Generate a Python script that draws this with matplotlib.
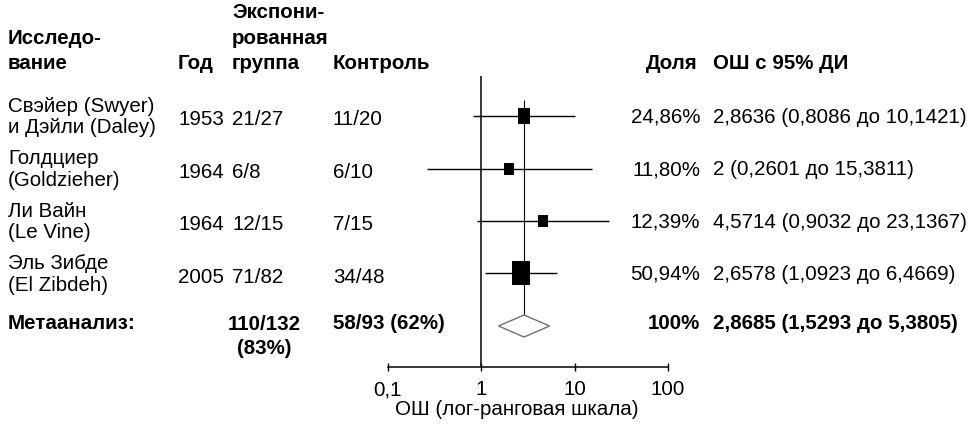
import matplotlib
matplotlib.use("Agg")
import matplotlib.pyplot as plt
from matplotlib.patches import Polygon
from matplotlib.ticker import NullLocator
from matplotlib.transforms import blended_transform_factory

plt.rcParams["font.family"] = ["Liberation Sans", "DejaVu Sans"]

studies = ["Свэйер (Swyer)\nи Дэйли (Daley)", "Голдциер\n(Goldzieher)",
           "Ли Вайн\n(Le Vine)", "Эль Зибде\n(El Zibdeh)"]
years = ["1953", "1964", "1964", "2005"]
exposed = ["21/27", "6/8", "12/15", "71/82"]
control = ["11/20", "6/10", "7/15", "34/48"]
weights = [24.86, 11.80, 12.39, 50.94]
odds = [2.8636, 2.0, 4.5714, 2.6578]
ci_low = [0.8086, 0.2601, 0.9032, 1.0923]
ci_high = [10.1421, 15.3811, 23.1367, 6.4669]

pooled_or = 2.8685
pooled_low = 1.5293
pooled_high = 5.3805
pooled_exposed = "110/132\n(83%)"
pooled_control = "58/93 (62%)"

xticks = [0.1, 1, 10, 100]
xtick_labels = ["0,1", "1", "10", "100"]


def fmt(v):
    return f"{v:.4f}".rstrip("0").rstrip(".").replace(".", ",")


W, H = 976, 431
FS = 14.8
fig = plt.figure(figsize=(W / 100, H / 100), dpi=100)

# forest panel: log scale, rows top to bottom
ax = fig.add_axes([388 / W, (H - 368) / H, (668 - 388) / W, (368 - 77) / H])
ax.set_xscale("log")
ax.set_xlim(0.1, 100)
ax.set_ylim(4.781, -0.762)

rows = list(range(len(studies)))
meta_row = len(studies)

# slightly tall box marker, height grows with study weight
box = [(-0.8, -1), (0.8, -1), (0.8, 1), (-0.8, 1), (-0.8, -1)]

ax.axvline(1, color="black", lw=1.1, zorder=2)
ax.vlines(pooled_or, -0.3, meta_row - 0.21, color="black", lw=0.8, zorder=2)
for y, est, lo, hi, w in zip(rows, odds, ci_low, ci_high, weights):
    ax.hlines(y, lo, hi, color="black", lw=1.0, zorder=3)
    ax.plot(est, y, marker=box, ms=(8.5 + 0.29 * w) / 1.39, color="black",
            mec="black", mew=0, zorder=4)

diamond = Polygon([(pooled_low, meta_row), (pooled_or, meta_row - 0.21),
                   (pooled_high, meta_row), (pooled_or, meta_row + 0.21)],
                  closed=True, facecolor="white", edgecolor="#707070", lw=1.0, zorder=5)
ax.add_patch(diamond)

for side in ["left", "right", "top"]:
    ax.spines[side].set_visible(False)
ax.spines["bottom"].set_linewidth(1.1)
ax.set_yticks([])
ax.set_xticks(xticks)
ax.set_xticklabels(xtick_labels, fontsize=FS)
ax.xaxis.set_minor_locator(NullLocator())
ax.tick_params(axis="x", direction="inout", length=6, width=1.0, pad=6)
ax.patch.set_visible(False)

fig.text(517 / W, 1 - 410 / H, "ОШ (лог-ранговая шкала)", fontsize=FS,
         ha="center", va="center")

# column x positions, pixels from the left edge
X_NAME, X_YEAR, X_EXP, X_CTRL, X_SHARE, X_OR = 8, 178, 232, 333, 700, 713

# column headers
hdr = dict(fontsize=FS, fontweight="bold", va="bottom", linespacing=1.42)
hy = 1 - 73 / H
fig.text(X_NAME / W, hy, "Исследо-\nвание", **hdr)
fig.text(X_YEAR / W, hy, "Год", **hdr)
fig.text(X_EXP / W, hy, "Экспони-\nрованная\nгруппа", **hdr)
fig.text(X_CTRL / W, hy, "Контроль", **hdr)
fig.text((X_SHARE - 3) / W, hy, "Доля", ha="right", **hdr)
fig.text(X_OR / W, hy, "ОШ с 95% ДИ", **hdr)

# table rows share the y scale of the forest panel
tr = blended_transform_factory(fig.transFigure, ax.transData)
body = dict(fontsize=FS, va="center", transform=tr)
for y, name, yr, ex, ct, w, est, lo, hi in zip(rows, studies, years, exposed, control,
                                                 weights, odds, ci_low, ci_high):
    fig.text(X_NAME / W, y, name, linespacing=1.14, **body)
    fig.text(X_YEAR / W, y + 0.05, yr, **body)
    fig.text(X_EXP / W, y + 0.05, ex, **body)
    fig.text(X_CTRL / W, y + 0.05, ct, **body)
    fig.text(X_SHARE / W, y, f"{w:.2f}%".replace(".", ","), ha="right", **body)
    fig.text(X_OR / W, y, f"{fmt(est)} ({fmt(lo)} до {fmt(hi)})", **body)

bold = dict(body, fontweight="bold")
fig.text(X_NAME / W, meta_row - 0.06, "Метаанализ:", **bold)
fig.text((X_EXP + 32) / W, meta_row - 0.22, pooled_exposed, ha="center", va="top",
         multialignment="center", linespacing=1.33, fontsize=FS,
         fontweight="bold", transform=tr)
fig.text(X_CTRL / W, meta_row - 0.06, pooled_control, **bold)
fig.text(X_SHARE / W, meta_row - 0.06, "100%", ha="right", **bold)
fig.text(X_OR / W, meta_row - 0.06,
         f"{fmt(pooled_or)} ({fmt(pooled_low)} до {fmt(pooled_high)})", **bold)

fig.savefig("out.png", dpi=100)
